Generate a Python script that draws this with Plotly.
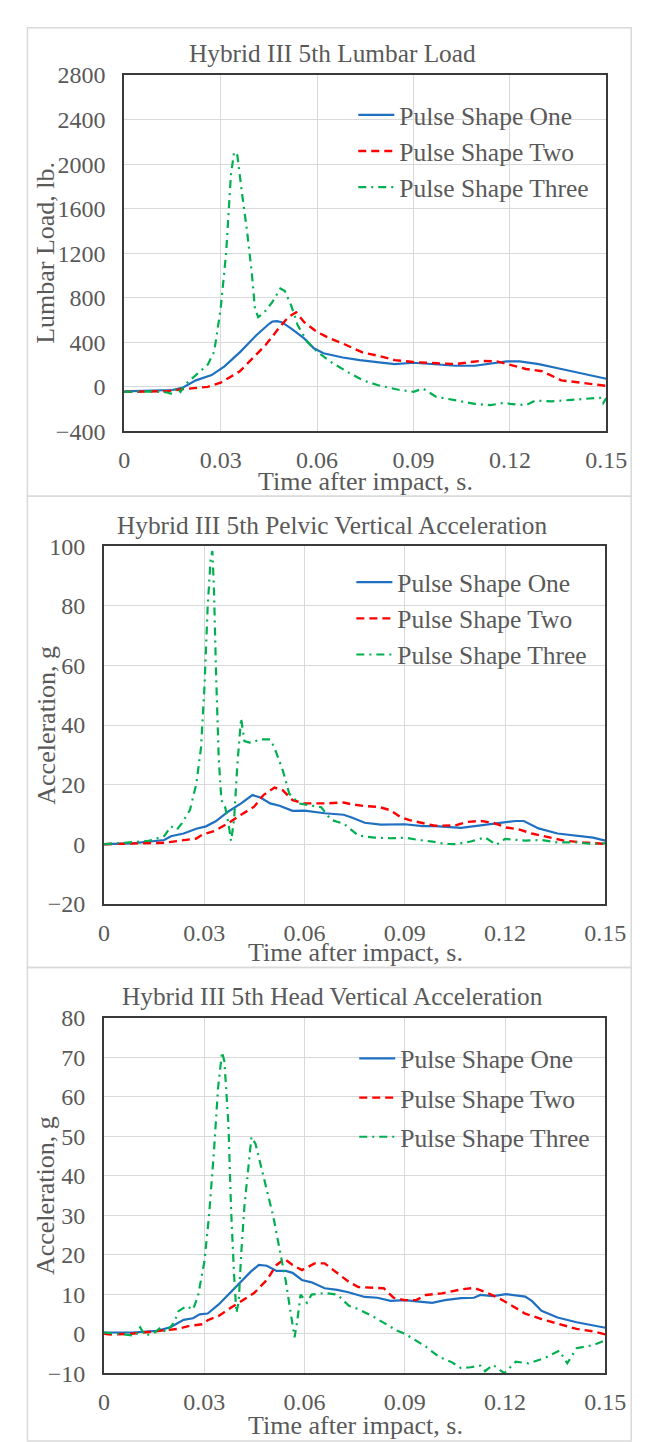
import plotly.graph_objects as go

W, H = 649, 1442
FONT = "Liberation Serif, Times New Roman, serif"
TXT = "#595959"


def px(sx):
    return sx / W


def py(sy):
    return 1 - sy / H


series_names = ["Pulse Shape One", "Pulse Shape Two", "Pulse Shape Three"]

# ---------------- Panel 1: Lumbar load (lb) ----------------
p1_t_one = [0, 0.005, 0.010, 0.015, 0.0183, 0.0223, 0.0272, 0.0312, 0.0362, 0.0411, 0.0451, 0.0461, 0.0475,
            0.049, 0.052, 0.056, 0.059, 0.062, 0.068, 0.0733, 0.0793, 0.0842, 0.09, 0.0962, 0.1031, 0.1091,
            0.114, 0.119, 0.123, 0.129, 0.136, 0.143, 0.150]
p1_v_one = [-40, -38, -35, -28, -6, 59, 106, 185, 317, 464, 567, 587, 590,
            581, 523, 435, 347, 302, 264, 240, 220, 205, 217, 205, 190, 190,
            211, 229, 229, 205, 161, 117, 73]
p1_t_two = [0, 0.010, 0.0133, 0.0183, 0.026, 0.030, 0.036, 0.040, 0.044, 0.048, 0.051, 0.0535, 0.056, 0.060,
            0.064, 0.068, 0.0743, 0.0793, 0.0842, 0.09, 0.0962, 0.103, 0.107, 0.111, 0.116, 0.119, 0.125,
            0.130, 0.136, 0.143, 0.150]
p1_v_two = [-45, -40, -38, -20, 0, 38, 141, 258, 376, 523, 626, 670, 581, 493,
            435, 390, 308, 278, 240, 223, 214, 205, 220, 234, 229, 205, 161,
            141, 59, 35, 9]
p1_t_three = [0, 0.010, 0.0133, 0.0151, 0.0163, 0.0175, 0.019, 0.022, 0.026, 0.028, 0.030, 0.0317, 0.0332,
              0.0342, 0.0352, 0.0367, 0.0382, 0.0397, 0.0407, 0.0417, 0.0436, 0.046, 0.0486, 0.050, 0.052,
              0.054, 0.057, 0.060, 0.064, 0.070, 0.0743, 0.079, 0.085, 0.090, 0.093, 0.097, 0.103, 0.109,
              0.114, 0.1185, 0.120, 0.125, 0.128, 0.133, 0.139, 0.145, 0.148, 0.149, 0.150]
p1_v_three = [-44, -42, -50, -65, -6, -45, 23, 97, 200, 317, 699, 1198, 1903,
              2109, 2079, 1727, 1404, 1022, 699, 626, 670, 758, 884, 860, 728,
              552, 405, 317, 229, 126, 59, 15, -23, -44, -15, -88, -123, -152,
              -164, -141, -152, -164, -123, -129, -117, -103, -97, -147, -100]

# ---------------- Panel 2: Pelvic vertical acceleration (g) ----------------
p2_t_one = [0, 0.0084, 0.018, 0.020, 0.0238, 0.0276, 0.0305, 0.0334, 0.0372, 0.041, 0.0444, 0.0468, 0.0497,
            0.0525, 0.0564, 0.060, 0.066, 0.0717, 0.0741, 0.078, 0.0828, 0.09, 0.0953, 0.0991, 0.1068, 0.1126,
            0.1184, 0.1232, 0.1256, 0.130, 0.1357, 0.1414, 0.1463, 0.150]
p2_v_one = [0, 0.3, 1.4, 2.7, 3.6, 5.2, 6.0, 7.7, 11, 13.7, 16.5, 15.7, 13.7,
            12.9, 11.2, 11.3, 10.4, 9.9, 9, 7.2, 6.6, 6.7, 6.1, 6.1, 5.5, 6.4,
            7.2, 7.8, 7.8, 5.3, 3.6, 2.9, 2.2, 1.2]
p2_t_two = [0, 0.018, 0.0276, 0.0295, 0.033, 0.0372, 0.041, 0.0449, 0.0477, 0.051, 0.0535, 0.0564, 0.060,
            0.066, 0.0717, 0.0741, 0.078, 0.0823, 0.0857, 0.0886, 0.0914, 0.095, 0.099, 0.105, 0.1088,
            0.1126, 0.1164, 0.1203, 0.1241, 0.128, 0.1328, 0.1376, 0.1434, 0.150]
p2_v_two = [0, 0.5, 1.9, 3.3, 4.4, 7.1, 9.9, 12.6, 16.5, 19, 18.1, 14.8, 13.7,
            13.7, 14, 13.4, 12.8, 12.5, 11.4, 9.2, 8.1, 7.3, 6.2, 6.3, 7.5,
            7.8, 7.2, 5.6, 5, 3.6, 2.3, 1.2, 0.6, 0.1]
p2_t_three = [0, 0.0132, 0.018, 0.020, 0.0218, 0.0233, 0.0257, 0.0276, 0.029, 0.030, 0.031, 0.0319, 0.0324,
              0.0329, 0.0335, 0.0343, 0.0351, 0.0362, 0.0372, 0.038, 0.0389, 0.0399, 0.041, 0.042, 0.0439,
              0.0468, 0.0497, 0.051, 0.0535, 0.0554, 0.0583, 0.0612, 0.065, 0.0679, 0.0717, 0.0761, 0.0809,
              0.0857, 0.09, 0.0943, 0.0982, 0.102, 0.105, 0.1097, 0.114, 0.1174, 0.12, 0.126, 0.1309, 0.1357,
              0.1414, 0.146, 0.150]
p2_v_three = [0, 1.1, 2.7, 6, 4.9, 7.1, 11.5, 20.3, 32.4, 52, 79.7, 96, 98.4,
              85, 57.7, 29, 14.8, 12.6, 7.1, 1.1, 8.2, 27, 42.3, 34.6, 34,
              35.2, 35.2, 32.4, 24.7, 17, 13.7, 13.2, 12.4, 8.2, 6.9, 2.9, 2.2,
              2, 2.2, 1.4, 0.9, 0.1, 0, 0.9, 2.3, -0.2, 1.8, 1.2, 1.4, 0.6,
              0.6, 0.1, 0.3]

# ---------------- Panel 3: Head vertical acceleration (g) ----------------
p3_t_one = [0, 0.0084, 0.016, 0.020, 0.0238, 0.0266, 0.0286, 0.031, 0.0343, 0.038, 0.041, 0.0439, 0.0463,
            0.0487, 0.0516, 0.0544, 0.0564, 0.0592, 0.0621, 0.066, 0.0698, 0.0731, 0.078, 0.0818, 0.0857,
            0.09, 0.0943, 0.0982, 0.102, 0.1068, 0.1107, 0.1126, 0.1164, 0.1203, 0.126, 0.128, 0.1309,
            0.1357, 0.1414, 0.1463, 0.150]
p3_v_one = [0.3, 0.3, 0.7, 1.7, 3.5, 3.9, 4.9, 5.1, 7.4, 10.5, 13.2, 15.7, 17.4,
            17.2, 15.9, 15.9, 15.4, 13.6, 13, 11.5, 11.1, 10.5, 9.3, 9.1, 8.3,
            8.5, 8.1, 7.8, 8.5, 9, 9.1, 9.8, 9.5, 10, 9.4, 8.3, 5.8,
            4.1, 2.9, 2.2, 1.5]
p3_t_two = [0, 0.002, 0.0084, 0.016, 0.0219, 0.0257, 0.0295, 0.031, 0.0343, 0.038, 0.041, 0.0449, 0.0487,
            0.0516, 0.054, 0.0564, 0.0592, 0.063, 0.066, 0.0698, 0.0731, 0.0761, 0.0837, 0.0866, 0.09,
            0.0934, 0.0963, 0.1011, 0.1068, 0.1107, 0.1145, 0.1184, 0.1222, 0.126, 0.1309, 0.1357, 0.1414,
            0.1463, 0.150]
p3_v_two = [0, -0.2, 0, 0.7, 1.2, 2, 2.4, 3.4, 4.5, 6.6, 8.2, 10.3, 13.6,
            17.4, 18.9, 17.4, 16.1, 17.8, 17.8, 15.3, 13.2, 11.8, 11.5, 9.1, 8.5,
            8.5, 9.8, 10.2, 11.2, 11.6, 10.4, 8.9, 7.1, 5.1, 3.7, 2.5, 1.2,
            0.6, -0.2]
p3_t_three = [0, 0.0094, 0.0108, 0.0123, 0.0151, 0.017, 0.0185, 0.0209, 0.0223, 0.0247, 0.0266, 0.0281,
              0.030, 0.0314, 0.0329, 0.0341, 0.0353, 0.036, 0.0372, 0.038, 0.0389, 0.0396, 0.0403, 0.041,
              0.042, 0.0429, 0.0441, 0.0453, 0.0468, 0.0487, 0.0506, 0.0525, 0.0544, 0.0559, 0.057, 0.0578,
              0.0588, 0.0607, 0.0621, 0.066, 0.0698, 0.0732, 0.0761, 0.08, 0.0837, 0.0876, 0.09, 0.0924,
              0.0963, 0.1001, 0.104, 0.1068, 0.1097, 0.1126, 0.114, 0.1164, 0.1198, 0.1232, 0.127, 0.1318,
              0.1362, 0.1386, 0.1414, 0.1463, 0.150]
p3_v_three = [0.3, -0.5, 1.6, -0.5, 0.3, 1.6, 0.3, 2.8, 5.7, 7, 6.1, 9.5,
              18.2, 29.8, 46.4, 62.2, 71.3, 68.9, 53.1, 31.5, 14.9, 5.3, 8.2, 19.9,
              32.3, 39.8, 49.8, 48.1, 43.1, 36.5, 29.8, 21.5, 13.2, 4.9, -0.9, 3.2,
              9.9, 7.8, 9.9, 10.3, 9.9, 7.1, 6.2, 4.6, 2.7, 0.8, 0, -1.2,
              -3.3, -5.8, -7.2, -8.7, -8.5, -8.1, -9.5, -7.9, -10, -7.1, -7.5, -6.2,
              -4.3, -7.5, -3.7, -2.9, -1.7]

x_ticks = [0, 0.03, 0.06, 0.09, 0.12, 0.15]
x_ticktext = ["0", "0.03", "0.06", "0.09", "0.12", "0.15"]

# layout positions below are in window pixels (x from left, y from top)
panels = [
    dict(title="Hybrid III 5th Lumbar Load", ytitle="Lumbar Load, lb.",
         data=[(p1_t_one, p1_v_one), (p1_t_two, p1_v_two), (p1_t_three, p1_v_three)],
         yrange=[-400, 2800], dtick=400,
         px_x=(115, 618), px_y=(55, 418), title_y=33, xt_y=469, xt_x=367, yt_x=33,
         leg=(354, 72), gap=0, box=(7, 484)),
    dict(title="Hybrid III 5th Pelvic Vertical Acceleration", ytitle="Acceleration, g",
         data=[(p2_t_one, p2_v_one), (p2_t_two, p2_v_two), (p2_t_three, p2_v_three)],
         yrange=[-20, 100], dtick=20,
         px_x=(94, 617), px_y=(535, 899), title_y=513, xt_y=949, xt_x=356, yt_x=33,
         leg=(352, 548), gap=0, box=(484, 964)),
    dict(title="Hybrid III 5th Head Vertical Acceleration", ytitle="Acceleration, g",
         data=[(p3_t_one, p3_v_one), (p3_t_two, p3_v_two), (p3_t_three, p3_v_three)],
         yrange=[-10, 80], dtick=10,
         px_x=(94, 617), px_y=(1015, 1377), title_y=993, xt_y=1430, xt_x=356, yt_x=33,
         leg=(355, 1033), gap=3, box=(964, 1446)),
]

styles = [
    dict(color="#1F70C1", width=2.2, dash="solid"),
    dict(color="#FF0000", width=2.4, dash="8px,5px"),
    dict(color="#00B050", width=2.2, dash="8px,5px,2px,5px"),
]

fig = go.Figure()
annotations = []
shapes = []
layout_axes = {}

for i, p in enumerate(panels):
    n = i + 1
    xa = "x" if n == 1 else f"x{n}"
    ya = "y" if n == 1 else f"y{n}"
    leg = "legend" if n == 1 else f"legend{n}"
    for j, (tt, vv) in enumerate(p["data"]):
        fig.add_trace(go.Scatter(
            x=tt, y=vv, mode="lines", name=series_names[j],
            line=styles[j], xaxis=xa, yaxis=ya, legend=leg,
            legendgroup=f"g{n}{j}", showlegend=True))
    x0, x1 = p["px_x"]
    y0, y1 = p["px_y"]
    axis_common = dict(
        showgrid=True, gridcolor="#D9D9D9", gridwidth=1.3,
        showline=True, linecolor="#3A3A3A", linewidth=2, mirror=True,
        zeroline=False, ticks="",
        tickfont=dict(family=FONT, size=24, color=TXT),
    )
    layout_axes["xaxis" if n == 1 else f"xaxis{n}"] = dict(
        axis_common, domain=[px(x0), px(x1)], range=[0, 0.15],
        tickvals=x_ticks, ticktext=x_ticktext, anchor=ya, ticklabelstandoff=6)
    layout_axes["yaxis" if n == 1 else f"yaxis{n}"] = dict(
        axis_common, domain=[py(y1), py(y0)], range=p["yrange"],
        dtick=p["dtick"], tick0=0, anchor=xa, ticklabelstandoff=12)
    layout_axes[leg] = dict(
        x=px(p["leg"][0]), y=py(p["leg"][1]), xanchor="left", yanchor="top",
        bgcolor="rgba(0,0,0,0)", borderwidth=0, itemwidth=36,
        traceorder="grouped", tracegroupgap=p["gap"],
        font=dict(family=FONT, size=25.5, color=TXT))
    annotations.append(dict(text=p["title"], x=px(332), y=py(p["title_y"]), xref="paper", yref="paper",
                            showarrow=False, xanchor="center", yanchor="middle",
                            font=dict(family=FONT, size=25.3, color=TXT)))
    annotations.append(dict(text="Time after impact, s.", x=px(p["xt_x"]), y=py(p["xt_y"]),
                            xref="paper", yref="paper", showarrow=False, xanchor="center", yanchor="middle",
                            font=dict(family=FONT, size=26, color=TXT)))
    annotations.append(dict(text=p["ytitle"], x=px(p["yt_x"]), y=py((y0 + y1) / 2),
                            xref="paper", yref="paper", showarrow=False, textangle=-90,
                            xanchor="center", yanchor="middle",
                            font=dict(family=FONT, size=26, color=TXT)))
    b0, b1 = p["box"]
    shapes.append(dict(type="rect", xref="paper", yref="paper", x0=px(14), x1=px(644),
                       y0=py(b1), y1=py(b0), line=dict(color="#D9D9D9", width=1.5),
                       fillcolor="rgba(0,0,0,0)", layer="below"))

fig.update_layout(
    width=W, height=H, margin=dict(l=0, r=0, t=0, b=0),
    paper_bgcolor="white", plot_bgcolor="white",
    annotations=annotations, shapes=shapes, **layout_axes)

fig.write_html("out.html")
